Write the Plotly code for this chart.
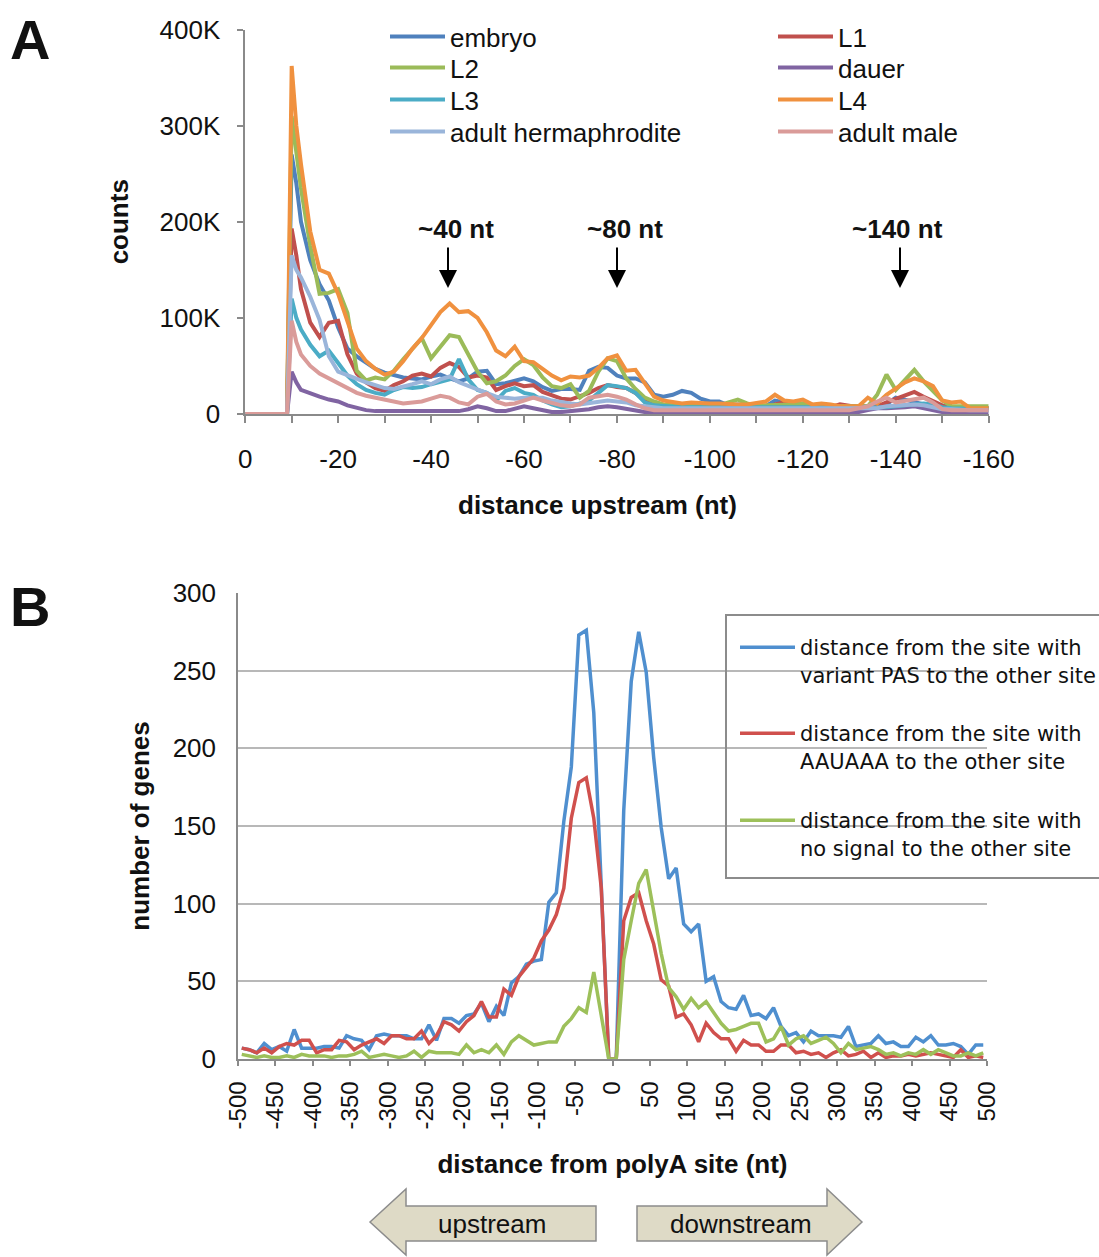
import plotly.graph_objects as go

W, H = 1099, 1257


def px(x):
    return x / W


def py(y):
    return 1 - y / H


# ---------------- Panel A data (counts in thousands) ----------------
pos_a = [0, -9, -10, -11] + list(range(-12, -161, -2))

embryo = [0, 0, 270, 240,
          200, 160, 135, 118, 90,
          68, 60, 54, 47, 43,
          40, 38, 37, 36, 39,
          41, 37, 34, 37, 44,
          45, 31, 32, 35, 37,
          34, 28, 24, 26, 26,
          25, 45, 49, 48, 40,
          37, 37, 33, 20, 18,
          20, 24, 22, 16, 13,
          13, 9, 10, 10, 9,
          8, 14, 12, 10, 11,
          8, 8, 8, 7, 7,
          7, 8, 8, 10, 17,
          15, 12, 10, 9, 7,
          7, 7, 7, 6, 6]
l1 = [0, 0, 193, 165,
      130, 95, 80, 95, 97,
      62, 42, 33, 27, 24,
      30, 34, 40, 42, 39,
      48, 53, 49, 38, 40,
      38, 25, 29, 32, 29,
      30, 23, 20, 16, 15,
      18, 22, 27, 30, 28,
      27, 22, 14, 11, 8,
      7, 7, 6, 6, 6,
      6, 6, 6, 6, 6,
      6, 10, 12, 7, 6,
      7, 7, 7, 10, 8,
      7, 7, 8, 12, 16,
      20, 23, 18, 14, 9,
      7, 7, 6, 6, 6]
l2 = [0, 0, 310, 275,
      235, 175, 125, 126, 130,
      105, 45, 35, 38, 36,
      45, 57, 68, 79, 58,
      70, 82, 80, 62, 44,
      32, 34, 40, 50, 57,
      51, 38, 29, 27, 31,
      17, 24, 44, 58, 55,
      37, 26, 17, 13, 10,
      9, 9, 9, 9, 8,
      9, 12, 15, 11, 9,
      9, 9, 9, 10, 11,
      9, 8, 8, 8, 8,
      7, 8, 20, 41, 25,
      36, 46, 34, 24, 14,
      8, 8, 8, 8, 8]
dauer = [0, 0, 44, 33,
         25, 21, 18, 15, 13,
         9, 6, 4, 3, 3,
         3, 2, 2, 2, 2,
         2, 2, 3, 5, 8,
         6, 3, 3, 6, 8,
         6, 4, 2, 2, 3,
         3, 5, 7, 8, 7,
         5, 3, 2, 2, 2,
         2, 2, 2, 2, 2,
         2, 2, 2, 2, 2,
         2, 2, 2, 2, 2,
         2, 2, 2, 2, 2,
         2, 4, 6, 6, 6,
         7, 8, 6, 3, 2,
         2, 1, 1, 1, 1]
l3 = [0, 0, 120, 100,
      88, 72, 60, 66, 53,
      40, 31, 25, 22, 20,
      25, 28, 27, 28, 31,
      33, 36, 57, 36, 25,
      22, 14, 24, 27, 22,
      20, 14, 10, 7, 8,
      11, 14, 22, 30, 29,
      27, 22, 12, 9, 8,
      8, 7, 7, 7, 7,
      7, 6, 6, 6, 6,
      6, 7, 7, 6, 6,
      6, 6, 6, 6, 6,
      6, 6, 6, 7, 8,
      9, 9, 11, 10, 7,
      6, 6, 5, 5, 5]
l4 = [0, 0, 362, 300,
      260, 190, 150, 146, 125,
      96, 68, 55, 47, 41,
      44, 55, 68, 79, 92,
      106, 115, 106, 107, 100,
      85, 66, 60, 70, 55,
      54, 47, 40, 35, 39,
      38, 40, 48, 58, 61,
      45, 46, 32, 18, 14,
      12, 11, 12, 11, 11,
      11, 10, 10, 10, 11,
      13, 20, 14, 13, 15,
      10, 11, 10, 8, 8,
      8, 17, 11, 20, 27,
      33, 37, 34, 29, 14,
      12, 13, 6, 6, 6]
adult_herm = [0, 0, 165, 150,
              142, 122, 98, 60, 44,
              40, 36, 33, 30, 27,
              26, 28, 31, 34, 31,
              36, 39, 33, 29, 25,
              22, 18, 17, 16, 17,
              17, 17, 14, 12, 11,
              10, 11, 12, 14, 13,
              12, 9, 8, 6, 6,
              6, 6, 6, 6, 6,
              6, 6, 5, 5, 5,
              5, 5, 5, 5, 5,
              5, 5, 5, 5, 5,
              5, 5, 6, 8, 9,
              9, 10, 9, 7, 5,
              5, 4, 4, 4, 4]
adult_male = [0, 0, 97, 75,
              62, 50, 42, 37, 33,
              28, 22, 19, 17, 14,
              12, 11, 12, 13, 16,
              19, 17, 12, 10, 18,
              21, 13, 10, 11, 14,
              17, 14, 11, 9, 8,
              10, 17, 19, 20, 18,
              15, 10, 6, 4, 4,
              4, 4, 4, 4, 4,
              4, 4, 4, 4, 4,
              4, 4, 4, 4, 4,
              4, 4, 4, 4, 4,
              6, 8, 13, 17, 12,
              14, 15, 17, 12, 5,
              4, 4, 4, 4, 4]

stages = ["embryo", "L1", "L2", "dauer", "L3", "L4",
          "adult hermaphrodite", "adult male"]
stage_values = [embryo, l1, l2, dauer, l3, l4, adult_herm, adult_male]
stage_colors = ["#4F81BD", "#C0504D", "#9BBB59", "#8064A2",
                "#4BACC6", "#F0913F", "#9AB5DA", "#DA9B99"]

a_xtick_vals = [0, -20, -40, -60, -80, -100, -120, -140, -160]
a_xtick_text = ["0", "-20", "-40", "-60", "-80", "-100", "-120", "-140", "-160"]
a_ytick_vals = [0, 100, 200, 300, 400]
a_ytick_text = ["0", "100K", "200K", "300K", "400K"]

peak_labels = ["~40 nt", "~80 nt", "~140 nt"]

# ---------------- Panel B data ----------------
dist_b = list(range(-495, 500, 10))

variant_pas = [7, 6, 4, 10, 6, 8, 5, 19, 7, 7,
               7, 8, 8, 7, 15, 13, 12, 6, 15, 16,
               15, 15, 15, 13, 13, 22, 12, 26, 26, 23,
               28, 29, 36, 24, 34,
               28, 49, 53, 61, 63, 64, 101, 107, 153, 188,
               273, 276, 223, 110, 0, 0, 160, 243, 275, 249,
               194, 149, 116, 123, 87, 82, 87,
               50, 53, 37, 33, 32, 41, 28, 29, 26, 33,
               21, 15, 17, 11, 18, 15, 15, 15, 14, 21,
               8, 9, 10, 15, 10, 11, 8, 8, 14, 11,
               15, 9, 9, 10, 8, 3, 9, 9]
aauaaa = [7, 6, 4, 7, 4, 8, 10, 9, 12, 12,
          4, 6, 6, 12, 11, 6, 9, 11, 13, 10,
          15, 15, 13, 13, 18, 10, 15, 24, 22, 18,
          24, 28, 37, 27, 27,
          45, 41, 53, 59, 65, 76, 83, 93, 110, 155,
          178, 181, 155, 110, 0, 0, 89, 104, 107, 89,
          74, 51, 47, 27, 29, 22, 11,
          23, 17, 13, 13, 5, 12, 9, 9, 5, 5,
          9, 9, 4, 5, 3, 4, 1, 4, 6, 2,
          3, 5, 1, 4, 1, 2, 2, 3, 2, 3,
          4, 3, 2, 1, 6, 1, 2, 1]
no_signal = [3, 2, 1, 2, 1, 1, 2, 1, 3, 2,
             2, 2, 1, 2, 2, 3, 5, 1, 2, 3,
             2, 1, 2, 5, 1, 5, 4, 4, 4, 3,
             9, 4, 6, 4, 9,
             3, 11, 15, 12, 9, 10, 11, 11, 21, 26,
             33, 30, 56, 28, 0, 0, 64, 89, 113, 122,
             94, 68, 46, 40, 32, 39, 33,
             37, 30, 23, 18, 19, 21, 23, 23, 11, 13,
             21, 9, 13, 15, 10, 12, 14, 10, 4, 10,
             6, 7, 8, 6, 3, 4, 2, 4, 3, 6,
             3, 6, 4, 2, 2, 4, 2, 4]

b_names = ["distance from the site with<br>variant PAS to the other site",
           "distance from the site with<br>AAUAAA to the other site",
           "distance from the site with<br>no signal to the other site"]
b_values = [variant_pas, aauaaa, no_signal]
b_colors = ["#4F8FCF", "#D0504D", "#9DC05A"]

b_xtick_vals = list(range(-500, 501, 50))
b_xtick_text = [str(v) for v in b_xtick_vals]
b_ytick_vals = [0, 50, 100, 150, 200, 250, 300]

# ---------------- Figure ----------------
FONT = "Liberation Sans, Arial, sans-serif"
GRAY = "#8A8A8A"

fig = go.Figure()

col_x = [390, 778]
row_y = [38, 69, 101, 133]
legend_layouts = {}
for i, (name, vals, col) in enumerate(zip(stages, stage_values, stage_colors)):
    lname = "legend" if i == 0 else "legend%d" % (i + 1)
    fig.add_trace(go.Scatter(
        x=pos_a, y=vals, name=name, mode="lines",
        line=dict(color=col, width=4),
        xaxis="x", yaxis="y", legend=lname))
    c, r = i % 2, i // 2
    legend_layouts[lname] = dict(
        x=px(col_x[c] - 5), y=py(row_y[r] - 25), xanchor="left", yanchor="top",
        bgcolor="rgba(0,0,0,0)", borderwidth=0, itemwidth=55,
        font=dict(family=FONT, size=26, color="#111"))

b_rows = [627, 713, 800]
for j, (name, vals, col) in enumerate(zip(b_names, b_values, b_colors)):
    lname = "legend%d" % (9 + j)
    fig.add_trace(go.Scatter(
        x=dist_b, y=vals, name=name, mode="lines",
        line=dict(color=col, width=3.5),
        xaxis="x2", yaxis="y2", legend=lname))
    legend_layouts[lname] = dict(
        x=px(735), y=py(b_rows[j]), xanchor="left", yanchor="top",
        bgcolor="rgba(0,0,0,0)", borderwidth=0, itemwidth=55, valign="top",
        font=dict(family="DejaVu Sans, sans-serif", size=21, color="#111"))

fig.update_layout(**legend_layouts)


def label(text, x, y, size=26, family=FONT):
    return dict(text=text, x=px(x), y=py(y), xref="paper", yref="paper",
                xanchor="center", yanchor="middle", showarrow=False,
                font=dict(family=family, size=size, color="#111"))


annotations = [label("<b>A</b>", 30, 40, size=56), label("<b>B</b>", 30, 606, size=56),
               label("<b>distance upstream (nt)</b>", 597, 505)]
peak_px = [(448, 456), (617, 625), (900, 897)]
for lab, (ax_px, tx_px) in zip(peak_labels, peak_px):
    annotations.append(label("<b>%s</b>" % lab, tx_px, 229))
    annotations.append(dict(text="", x=px(ax_px), y=py(288), xref="paper", yref="paper",
                            showarrow=True, ax=0, ay=-42, arrowhead=2, arrowsize=1.8,
                            arrowwidth=2, arrowcolor="black", standoff=0))
annotations.append(label("upstream", 492, 1224))
annotations.append(label("downstream", 741, 1224))


def path_from(points):
    return "M " + " L ".join("%f,%f" % (px(x), py(y)) for x, y in points) + " Z"


shapes = [
    dict(type="path", xref="paper", yref="paper",
         path=path_from([(370, 1222), (406, 1189), (406, 1206), (596, 1206),
                         (596, 1241), (406, 1241), (406, 1255)]),
         fillcolor="#DEDAC6", line=dict(color="#8C8C8C", width=1.5)),
    dict(type="path", xref="paper", yref="paper",
         path=path_from([(862, 1222), (827, 1189), (827, 1206), (637, 1206),
                         (637, 1241), (827, 1241), (827, 1255)]),
         fillcolor="#DEDAC6", line=dict(color="#8C8C8C", width=1.5)),
    dict(type="rect", xref="paper", yref="paper",
         x0=px(726), x1=px(1110), y0=py(878), y1=py(615),
         line=dict(color="#8C8C8C", width=2), fillcolor="rgba(0,0,0,0)"),
]

fig.update_layout(
    width=W, height=H,
    margin=dict(l=0, r=0, t=0, b=0, autoexpand=False),
    paper_bgcolor="white", plot_bgcolor="white",
    font=dict(family=FONT, size=26, color="#111"),
    showlegend=True,
    annotations=annotations,
    shapes=shapes,
    xaxis=dict(domain=[px(245.2), px(988.7)], range=[0, -160], anchor="y",
               tickvals=a_xtick_vals, ticktext=a_xtick_text,
               showline=True, linecolor=GRAY, linewidth=1.5,
               ticks="outside", ticklen=7, tickwidth=1.5, tickcolor=GRAY,
               minor=dict(dtick=10, tick0=0, ticks="outside", ticklen=7,
                          tickwidth=1.5, tickcolor=GRAY),
               showgrid=False, zeroline=False, ticklabelstandoff=14,
               tickfont=dict(family=FONT, size=26, color="#111")),
    yaxis=dict(domain=[py(414), py(29.5)], range=[0, 400], anchor="x",
               tickvals=a_ytick_vals, ticktext=a_ytick_text,
               showline=True, linecolor=GRAY, linewidth=1.5,
               ticks="outside", ticklen=6, tickwidth=1.5, tickcolor=GRAY,
               showgrid=False, zeroline=False, ticklabelstandoff=12,
               tickfont=dict(family=FONT, size=26, color="#111"),
               title=dict(text="<b>counts</b>", standoff=23,
                          font=dict(family=FONT, size=26, color="#111"))),
    xaxis2=dict(domain=[px(238), px(987)], range=[-500, 500], anchor="y2",
                tickvals=b_xtick_vals, ticktext=b_xtick_text, tickangle=-90,
                showline=True, linecolor=GRAY, linewidth=1.5,
                ticks="outside", ticklen=5, tickwidth=1.5, tickcolor=GRAY,
                showgrid=False, zeroline=False, ticklabelstandoff=6,
                tickfont=dict(family=FONT, size=24, color="#111"),
                title=dict(text="<b>distance from polyA site (nt)</b>", standoff=26,
                           font=dict(family=FONT, size=26, color="#111"))),
    yaxis2=dict(domain=[py(1059), py(593)], range=[0, 300], anchor="x2",
                tickvals=b_ytick_vals,
                showline=True, linecolor=GRAY, linewidth=1.5,
                ticks="", showgrid=True, gridcolor="#B8B8B8", gridwidth=1.5,
                zeroline=False, ticklabelstandoff=15,
                tickfont=dict(family=FONT, size=26, color="#111"),
                title=dict(text="<b>number of genes</b>", standoff=16,
                           font=dict(family=FONT, size=26, color="#111"))),
)

fig.write_html("out.html")
